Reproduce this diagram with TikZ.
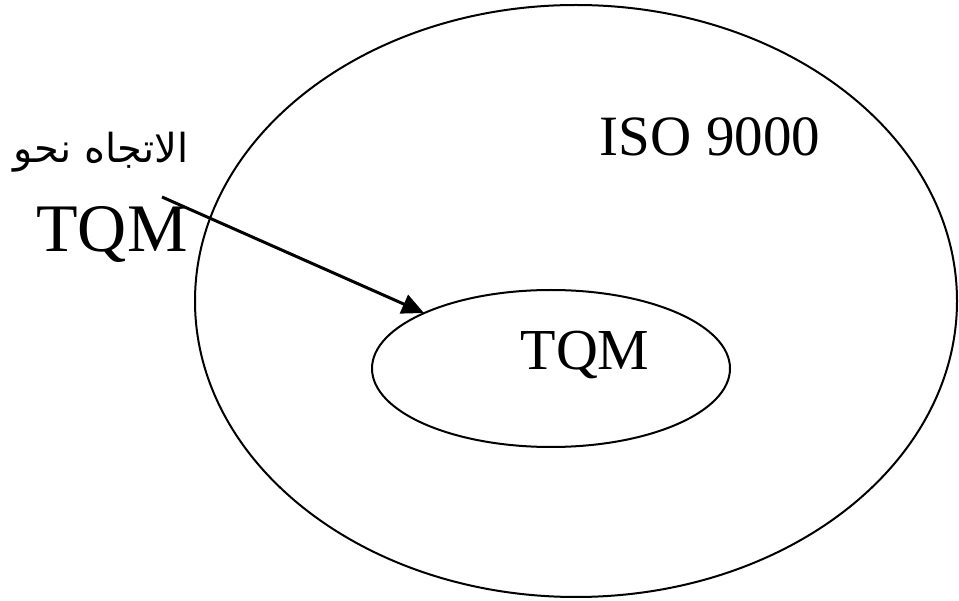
\documentclass[tikz,border=0pt]{standalone}
\usepackage{fontspec}
\setmainfont{Liberation Serif}
\newfontfamily\arabicfont[Script=Arabic]{DejaVu Sans}
\TeXXeTstate=1
\usetikzlibrary{shapes.geometric,arrows.meta}
\tikzset{
  ring/.style={draw, line width=2pt, ellipse, inner sep=0pt},
  lbl/.style={inner sep=0pt, anchor=center},
  pointer/.style={line width=3pt, -{Triangle[length=22pt,width=20pt]}}
}
\begin{document}
\begin{tikzpicture}[x=1pt,y=-1pt]
\useasboundingbox (0,0) rectangle (959,601);
\node[ring, minimum width=762pt, minimum height=592pt] (outer) at (576,301) {};
\node[ring, minimum width=358pt, minimum height=157pt] (inner) at (551,368.5) {};
\node[lbl, font=\fontsize{57}{62}\selectfont] (iso) at (710,137) {ISO 9000};
\node[lbl, font=\fontsize{58}{64}\selectfont] (tqmin) at (585,355) {TQM};
\node[lbl, font=\fontsize{68}{74}\selectfont] (tqmout) at (112,235) {TQM};
\node[lbl, font=\arabicfont\fontsize{40}{46}\selectfont] (arab) at (101,152) {\beginR الاتجاه نحو\endR};
\coordinate (start) at (162,197);
\coordinate (tip) at (424,313);
\draw[pointer] (start) -- (tip);
\end{tikzpicture}
\end{document}
